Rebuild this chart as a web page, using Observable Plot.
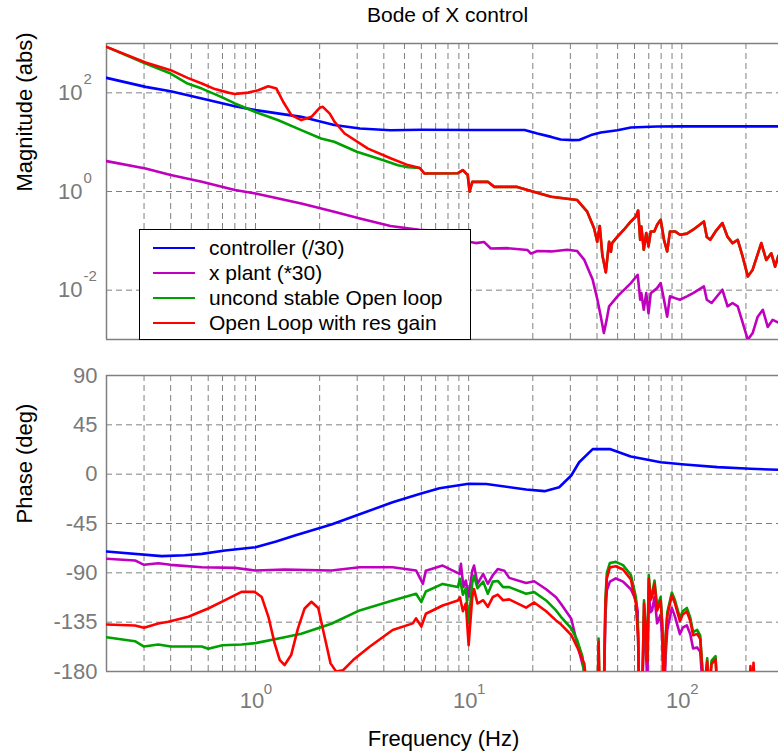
<!DOCTYPE html>
<html>
<head>
<meta charset="utf-8">
<script src="https://cdn.jsdelivr.net/npm/d3@7"></script>
<script src="https://cdn.jsdelivr.net/npm/@observablehq/plot@0.6"></script>
<style>
  body { margin: 0; background: #fff; }
  #chart { position: relative; width: 778px; height: 753px; overflow: hidden; font-family: "Liberation Sans", Arial, Helvetica, sans-serif; background: #fff; }
  #chart svg { position: absolute; left: 0; }
  #legend { position: absolute; left: 139px; top: 229px; width: 330px; height: 109px; border: 1px solid #000; background: #fff; }
  .lrow { position: absolute; left: 0; height: 24px; width: 330px; }
  .lline { position: absolute; left: 13px; top: 11px; width: 42px; height: 0; border-top: 2.6px solid; }
  .ltext { position: absolute; left: 69px; top: 0; font-size: 21px; line-height: 24px; color: #000; white-space: nowrap; }
</style>
</head>
<body>
<div id="chart"></div>
<script>
// ---------------- data ----------------
const seriesNames  = ["controller (/30)", "x plant (*30)", "uncond stable Open loop", "Open Loop with res gain"];
const seriesColors = ["#0000ff", "#bf00bf", "#00a000", "#ff0000"];

const xGridTicks  = [0.3,0.4,0.5,0.6,0.7,0.8,0.9,1,2,3,4,5,6,7,8,9,10,20,30,40,50,60,70,80,90,100,200];
const xMajorTicks = [1, 10, 100];
const magTicks    = [1e-2, 1, 1e2];
const phaseTicks  = [90, 45, 0, -45, -90, -135, -180];
const phaseGrid   = [45, 0, -45, -90, -135];

// Magnitude: controller (/30)
const ctrlMagF = [0.2,0.305,0.4,0.56,0.8,1,1.64,2.34,3.09,4.3,6,10,18.3,21,24.4,27,30.7,33,37.5,41.7,49.9,57.7,76.6,100,300];
const ctrlMagV = [201,132,108,76.6,53.7,44.6,32.6,22.2,18.9,17.5,17.8,17.7,17.6,15,12.8,11.3,11.0,11.1,13.9,15.7,17.5,19.8,20.8,20.9,20.9];

// Magnitude: x plant (*30)
const plantMagF = [0.2,0.305,0.4,0.56,0.8,1,1.64,2.34,3.09,4.3,5.86,7,8.5,9.4,10.2,10.8,11.8,12.7,15.2,18.9,19.6,21,24.4,29,32.3,34.9,38.2,40.2,41.7,43.1,44.4,45.6,49.9,57.7,62.1,63.8,64.6,66.3,68.1,69.8,71.5,76.6,79.6,82.5,85.4,88,93,98,105.7,113,127,131,138,155,164,173,183,193,204,215,227,240,253,267,284,300];
const plantMagV = [4.13,2.92,2.15,1.57,1.07,0.91,0.57,0.39,0.284,0.2,0.167,0.16,0.152,0.15,0.095,0.09,0.095,0.07,0.071,0.065,0.055,0.062,0.061,0.066,0.062,0.041,0.0162,0.0064,0.0029,0.00135,0.0025,0.0047,0.0075,0.0139,0.0205,0.0064,0.0087,0.004,0.0087,0.0034,0.0087,0.011,0.0139,0.0064,0.0029,0.0075,0.0069,0.0064,0.0075,0.0087,0.0119,0.0064,0.0055,0.0102,0.0047,0.0055,0.0047,0.0022,0.00099,0.00135,0.0029,0.004,0.0018,0.0025,0.0022,0.002];

// Magnitude: uncond stable open loop (low frequencies)
const uncondMagF = [0.2,0.305,0.4,0.48,0.56,0.69,0.8,1,1.28,1.64,2.03,2.34,2.99,3.98,4.66,5.19,5.9];
const uncondMagV = [855,393,246,154,122,83,61,41,27.9,17.5,11.9,10.2,6.4,4.3,3.4,3.1,3.0];
// Magnitude: open loop with res gain (low frequencies)
const resMagF = [0.2,0.305,0.4,0.48,0.56,0.645,0.745,0.8,0.924,1.03,1.147,1.254,1.348,1.474,1.64,1.83,2.0,2.07,2.23,2.35,2.62,3.37,4.33,5.19,5.9];
const resMagV = [855,411,288,201,155,119,101,95,101,113,136,122,66,35.3,28,32.6,49.6,52,38,25.8,15,7.4,4.67,3.43,3.0];
// Magnitude: both open loops above 6 Hz (they coincide)
const loopMagHiF = [6.2,8.9,9.4,9.9,10.1,10.4,12.3,13.2,16.9,19.6,24.4,32.3,36,38.8,40.1,41.2,42.4,44,45.6,46.5,47.1,49.9,53.5,57.7,60.9,62.4,63.8,64.6,66.3,68.1,69.8,71.5,74.3,76.6,79.6,82.5,85.4,88,93,98,105.7,113,127,131,136,144,155,164,173,183,193,204,215,236,249,263,274,284,300];
const loopMagHiV = [2.32,2.35,2.71,2.14,0.99,1.57,1.57,1.24,1.24,1.02,0.78,0.67,0.39,0.178,0.096,0.2,0.051,0.023,0.096,0.06,0.09,0.122,0.168,0.247,0.311,0.412,0.105,0.195,0.066,0.144,0.077,0.155,0.155,0.211,0.267,0.105,0.061,0.155,0.155,0.133,0.14,0.168,0.247,0.12,0.105,0.155,0.229,0.12,0.09,0.105,0.048,0.019,0.026,0.09,0.041,0.056,0.03,0.05,0.045];

// Phase: controller
const ctrlPhF = [0.2,0.363,0.466,0.56,0.72,1,1.25,1.53,2.27,3.08,4.4,5.88,7.3,10,12.1,18.6,22.7,26.6,30.3,33,38.2,46.3,57.6,79.6,103,147,210,300];
const ctrlPhV = [-70.5,-74.8,-73.9,-72.7,-69.6,-66.6,-61.5,-56,-46,-36.6,-25.6,-18,-12.8,-8.8,-9,-14,-15.5,-11.9,-1.2,10.9,22.8,22.8,16.1,10.9,8.8,6.4,4.9,3.8];

// Phase: x plant
const plantPhF = [0.2,0.272,0.3,0.35,0.4,0.56,0.8,1,1.37,2.27,3.08,4.4,5.67,6.1,6.3,7.55,9.07,9.2,9.45,9.7,10,10.4,10.6,11,11.7,12.3,13,13.7,14.7,15.5,18.6,20.3,23.1,25.7,27.1,30.3,32.3,34.9,36,40.3,43,43.8,44.5,46,49,53,57.7,60.9,62.1,63,65.3,66.5,68,68.9,70,71.3,72.6,74.5,76.6,79.6,81,82.5,84,85.5,89.8,92.9,98,101,105.6,109.6,113,118,122,127,131.6,134,138,144,147,152,300];
const plantPhV = [-77.2,-78.7,-82.7,-81.2,-82.7,-84.9,-85.5,-87.9,-87,-87.9,-84.9,-84.9,-87.9,-100,-88,-83.4,-91,-81.8,-103,-97,-112,-88,-83.4,-100,-91,-100,-92,-86.6,-88,-94.6,-99.2,-97.7,-105,-112.2,-118.2,-131.9,-154.7,-180,-200,-210,-210,-130,-106,-98,-95,-98,-105,-115,-125,-200,-200,-130,-165,-190,-108,-126,-124,-112,-136,-128,-152,-210,-165,-142,-122,-130,-146,-140,-138,-146,-159,-158,-162,-210,-185,-210,-190,-185,-210,-220,-220];

// Phase: uncond stable open loop
const uncondPhF = [0.2,0.272,0.3,0.35,0.4,0.56,0.6,0.7,0.86,1,1.37,1.64,2.27,3.08,4.4,5.67,6.0,6.3,7.55,8.9,9.1,9.4,9.7,10,10.4,10.6,11,11.7,12.3,13,13.7,14.5,15.5,18.6,20.3,23.1,25.7,27.1,30.3,32.3,34.2,35.5,38,40.3,40.7,41.2,43,43.8,44.5,46,49,53,57.7,60.9,62.4,63,65.3,66.5,68,68.9,70,71.3,72.6,74.5,76.6,79.6,81,82.5,84,85.5,89.8,92.9,98,101,105.6,109.6,113,118,122,127,131.6,134,138,144,147,152,300];
const uncondPhV = [-148.7,-152.4,-157.2,-155.4,-157.2,-157.2,-159.3,-156,-155.4,-154.1,-148.7,-145.6,-136.4,-124.3,-115.2,-109.1,-116.7,-107,-100.1,-103,-95.5,-110,-104,-136,-99,-92.5,-104,-98,-109,-98,-97.4,-103,-103,-109.1,-107.6,-115.2,-124.3,-130.1,-140.7,-151.3,-166.4,-200,-210,-205,-150,-205,-210,-115,-90,-81,-80,-83,-92,-112,-145,-200,-195,-115,-147,-168,-92,-112,-109,-97,-121,-112,-137,-200,-147,-126,-108,-115,-131,-125,-122,-131,-144,-142,-147,-200,-168,-200,-170,-166,-200,-210,-220];

// Phase: open loop with res gain
const resPhF = [0.2,0.272,0.3,0.35,0.39,0.484,0.6,0.72,0.86,0.99,1.07,1.15,1.23,1.3,1.37,1.47,1.58,1.7,1.83,1.97,2.11,2.25,2.39,2.57,2.87,3.43,4.4,5.47,5.67,6.0,6.3,7.55,8.9,9.1,9.4,9.7,10,10.4,10.6,11,11.7,12.3,13,13.7,14.5,15.5,18.6,20.3,23.1,25.7,27.1,30.3,32.3,34.9,36,38,40.3,40.7,41.2,43,43.8,44.5,46,49,53,57.7,60.9,62.4,63,65.3,66.5,68,68.9,70,71.3,72.6,74.5,76.6,79.6,81,82.5,84,85.5,89.8,92.9,98,101,105.6,109.6,113,118,122,127,131.6,134,138,144,147,152,205,210,213,217,222,300];
const resPhV = [-137.1,-138,-140,-136.2,-134.7,-130.1,-122.5,-114.9,-107.4,-107.4,-112.1,-130.1,-154.4,-169.6,-174.1,-165,-141.1,-122.5,-116.4,-122,-148.3,-172.6,-180,-179,-169.6,-157.4,-142.2,-136.1,-131.5,-139,-127.3,-119.8,-115.2,-112.3,-125,-118,-155.9,-112,-104.9,-118,-115,-121,-112,-109.9,-115,-114.2,-121.7,-117,-125,-133.4,-137,-146.7,-157.7,-173,-200,-210,-205,-153,-205,-210,-120,-95,-85,-84,-87,-96,-118,-150,-200,-195,-118,-150,-171,-95.3,-115,-112,-100,-124.3,-115.5,-140,-200,-150,-129.3,-110.7,-118,-134,-128,-125.2,-134,-147,-145.7,-150.3,-200,-171,-200,-173,-169,-200,-210,-210,-175,-205,-172,-210,-210];

// ---------------- drawing ----------------
const FONT = '"Liberation Sans", Arial, Helvetica, sans-serif';
const GRID = "#808080";
const TICKC = "#7a7a7a";
const LW = 2.6;
const pts = (f, v) => f.map((x, i) => ({f: x, v: v[i]}));

const magSeries = [
  pts(ctrlMagF, ctrlMagV),
  pts(plantMagF, plantMagV),
  pts(uncondMagF.concat(loopMagHiF), uncondMagV.concat(loopMagHiV)),
  pts(resMagF.concat(loopMagHiF), resMagV.concat(loopMagHiV))
];
const phaseSeries = [
  pts(ctrlPhF, ctrlPhV),
  pts(plantPhF, plantPhV),
  pts(uncondPhF, uncondPhV),
  pts(resPhF, resPhV)
];

const xOpts = {type: "log", domain: [0.2, 300], range: [106, 783], axis: null};
const gridX = Plot.ruleX(xGridTicks, {x: d => d, stroke: GRID, strokeWidth: 1, strokeDasharray: "6,4"});
const lines = (series) => series.map((data, i) =>
  Plot.line(data, {x: "f", y: "v", stroke: seriesColors[i], strokeWidth: LW, clip: true, strokeLinejoin: "round"}));

const topPlot = Plot.plot({
  width: 778, height: 345, marginTop: 43, marginBottom: 6, marginLeft: 106, marginRight: 0,
  x: xOpts,
  y: {type: "log", domain: [1e-3, 1e3], axis: null},
  style: {fontFamily: FONT, background: "transparent", overflow: "visible"},
  marks: [
    gridX,
    Plot.ruleY(magTicks, {y: d => d, stroke: GRID, strokeWidth: 1, strokeDasharray: "6,4"}),
    Plot.ruleY([1e3, 1e-3], {y: d => d, stroke: GRID, strokeWidth: 1.5}),
    Plot.ruleX([0.2], {x: d => d, stroke: GRID, strokeWidth: 1.5}),
    ...lines(magSeries),
    Plot.text(magTicks, {y: d => d, frameAnchor: "left", lineAnchor: "middle", text: () => "10", textAnchor: "end", dx: -24, fontSize: 22, fill: TICKC}),
    Plot.text(magTicks, {y: d => d, frameAnchor: "left", lineAnchor: "middle", text: d => String(Math.round(Math.log10(d))), textAnchor: "start", dx: -23, dy: -13.5, fontSize: 15, fill: TICKC}),
    Plot.text(["Magnitude (abs)"], {frameAnchor: "left", lineAnchor: "middle", dx: -82, rotate: -90, text: d => d, fontSize: 22, fill: "#000"}),
    Plot.text(["Bode of X control"], {frameAnchor: "top", lineAnchor: "middle", dy: -28, dx: 5, text: d => d, fontSize: 21, fill: "#000"})
  ]
});

const botPlot = Plot.plot({
  width: 778, height: 408, marginTop: 30, marginBottom: 82, marginLeft: 106, marginRight: 0,
  x: xOpts,
  y: {domain: [-180, 90], axis: null},
  style: {fontFamily: FONT, background: "transparent", overflow: "visible"},
  marks: [
    gridX,
    Plot.ruleY(phaseGrid, {y: d => d, stroke: GRID, strokeWidth: 1, strokeDasharray: "6,4"}),
    Plot.ruleY([90, -180], {y: d => d, stroke: GRID, strokeWidth: 1.5}),
    Plot.ruleX([0.2], {x: d => d, stroke: GRID, strokeWidth: 1.5}),
    ...lines(phaseSeries),
    Plot.text(phaseTicks, {y: d => d, frameAnchor: "left", lineAnchor: "middle", text: d => String(d), textAnchor: "end", dx: -9, fontSize: 22, fill: TICKC}),
    Plot.text(xMajorTicks, {x: d => d, frameAnchor: "bottom", lineAnchor: "middle", text: () => "10", dy: 29, dx: -3.5, fontSize: 22, fill: TICKC}),
    Plot.text(xMajorTicks, {x: d => d, frameAnchor: "bottom", lineAnchor: "middle", text: d => String(Math.round(Math.log10(d))), dy: 17.5, dx: 12.5, fontSize: 15, fill: TICKC}),
    Plot.text(["Phase (deg)"], {frameAnchor: "left", lineAnchor: "middle", dx: -82, rotate: -90, text: d => d, fontSize: 22, fill: "#000"}),
    Plot.text(["Frequency (Hz)"], {frameAnchor: "bottom", lineAnchor: "middle", dy: 67, dx: 1, text: d => d, fontSize: 22, fill: "#000"})
  ]
});

const chart = document.getElementById("chart");
topPlot.style.top = "0px";
botPlot.style.top = "345px";
chart.appendChild(topPlot);
chart.appendChild(botPlot);

// legend
const legend = document.createElement("div");
legend.id = "legend";
seriesNames.forEach((name, i) => {
  const row = document.createElement("div");
  row.className = "lrow";
  row.style.top = (5.5 + i * 25.3) + "px";
  const ln = document.createElement("div");
  ln.className = "lline";
  ln.style.borderTopColor = seriesColors[i];
  const tx = document.createElement("div");
  tx.className = "ltext";
  tx.textContent = name;
  row.appendChild(ln);
  row.appendChild(tx);
  legend.appendChild(row);
});
chart.appendChild(legend);
</script>
</body>
</html>
